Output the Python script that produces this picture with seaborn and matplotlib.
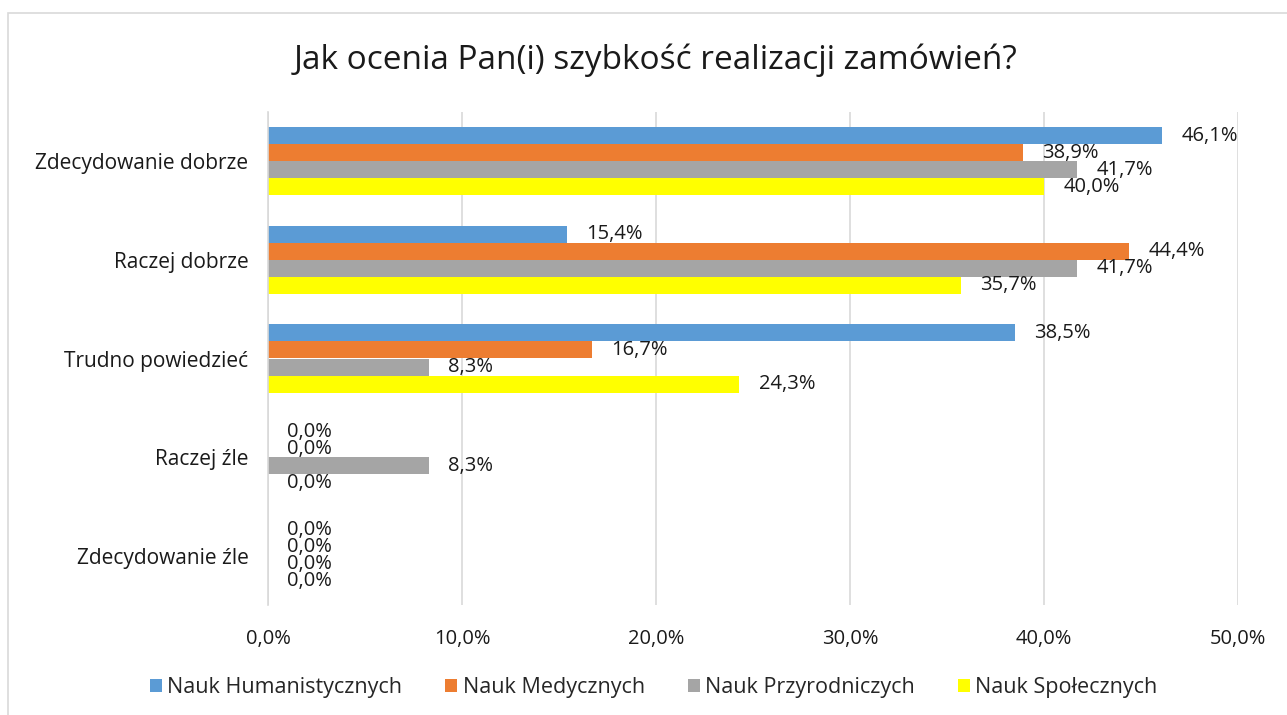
import matplotlib
matplotlib.use("Agg")
import matplotlib.pyplot as plt
import seaborn as sns
import pandas as pd
from matplotlib.patches import Rectangle

categories = ["Zdecydowanie dobrze", "Raczej dobrze", "Trudno powiedzieć", "Raczej źle", "Zdecydowanie źle"]
series_names = ["Nauk Humanistycznych", "Nauk Medycznych", "Nauk Przyrodniczych", "Nauk Społecznych"]
hum = [46.1, 15.4, 38.5, 0.0, 0.0]
med = [38.9, 44.4, 16.7, 0.0, 0.0]
przy = [41.7, 41.7, 8.3, 8.3, 0.0]
spo = [40.0, 35.7, 24.3, 0.0, 0.0]
colors = ["#5B9BD5", "#ED7D31", "#A5A5A5", "#FFFF00"]
xticks = [0, 10, 20, 30, 40, 50]

rows = []
for name, vals in zip(series_names, [hum, med, przy, spo]):
    for c, v in zip(categories, vals):
        rows.append({"cat": c, "series": name, "val": v})
df = pd.DataFrame(rows)

sns.set_theme(style="white")
font = ["Open Sans", "DejaVu Sans"]
plt.rcParams["font.family"] = font

fig = plt.figure(figsize=(12.87, 7.15), dpi=100)
ax = fig.add_axes([268/1287, 1-605/715, 970/1287, 493/715])

sns.barplot(data=df, y="cat", x="val", hue="series", order=categories,
            hue_order=series_names, palette=colors, orient="h",
            width=0.69, gap=0, saturation=1, ax=ax, legend=True, linewidth=0)

for cont in ax.containers:
    labels = [f"{v:.1f}%".replace(".", ",") for v in cont.datavalues]
    ax.bar_label(cont, labels=labels, padding=14, fontsize=14.5, color="#1a1a1a")

ax.set_xlim(0, 50)
ax.set_ylim(4.5, -0.5)
ax.set_xticks(xticks)
ax.set_xticklabels([f"{t:.1f}%".replace(".", ",") for t in xticks], fontsize=14.5, color="#1a1a1a")
ax.tick_params(axis="y", labelsize=15, labelcolor="#1a1a1a", length=0, pad=14)
ax.tick_params(axis="x", length=0, pad=17)
ax.set_xlabel("")
ax.set_ylabel("")
ax.grid(axis="x", color="#D9D9D9", linewidth=1.2)
ax.set_axisbelow(True)
for s in ["top", "right", "bottom"]:
    ax.spines[s].set_visible(False)
ax.spines["left"].set_color("#D9D9D9")
ax.spines["left"].set_linewidth(1.2)

handles, labs = ax.get_legend_handles_labels()
ax.get_legend().remove()
fig.legend(handles, labs, loc="center", bbox_to_anchor=(0.508, 1-688/715), ncol=4,
           frameon=False, fontsize=15.5, handlelength=0.55, handleheight=0.55,
           handletextpad=0.25, columnspacing=2.0)

fig.text(0.509, 1-60/715, "Jak ocenia Pan(i) szybkość realizacji zamówień?",
         ha="center", va="center", fontsize=24, color="#1a1a1a")

fig.patches.append(Rectangle((8/1287, -0.1), 1.2, 1-13/715+0.1, transform=fig.transFigure,
                             fill=False, edgecolor="#D9D9D9", linewidth=1.2))

fig.savefig("out.png", dpi=100)
